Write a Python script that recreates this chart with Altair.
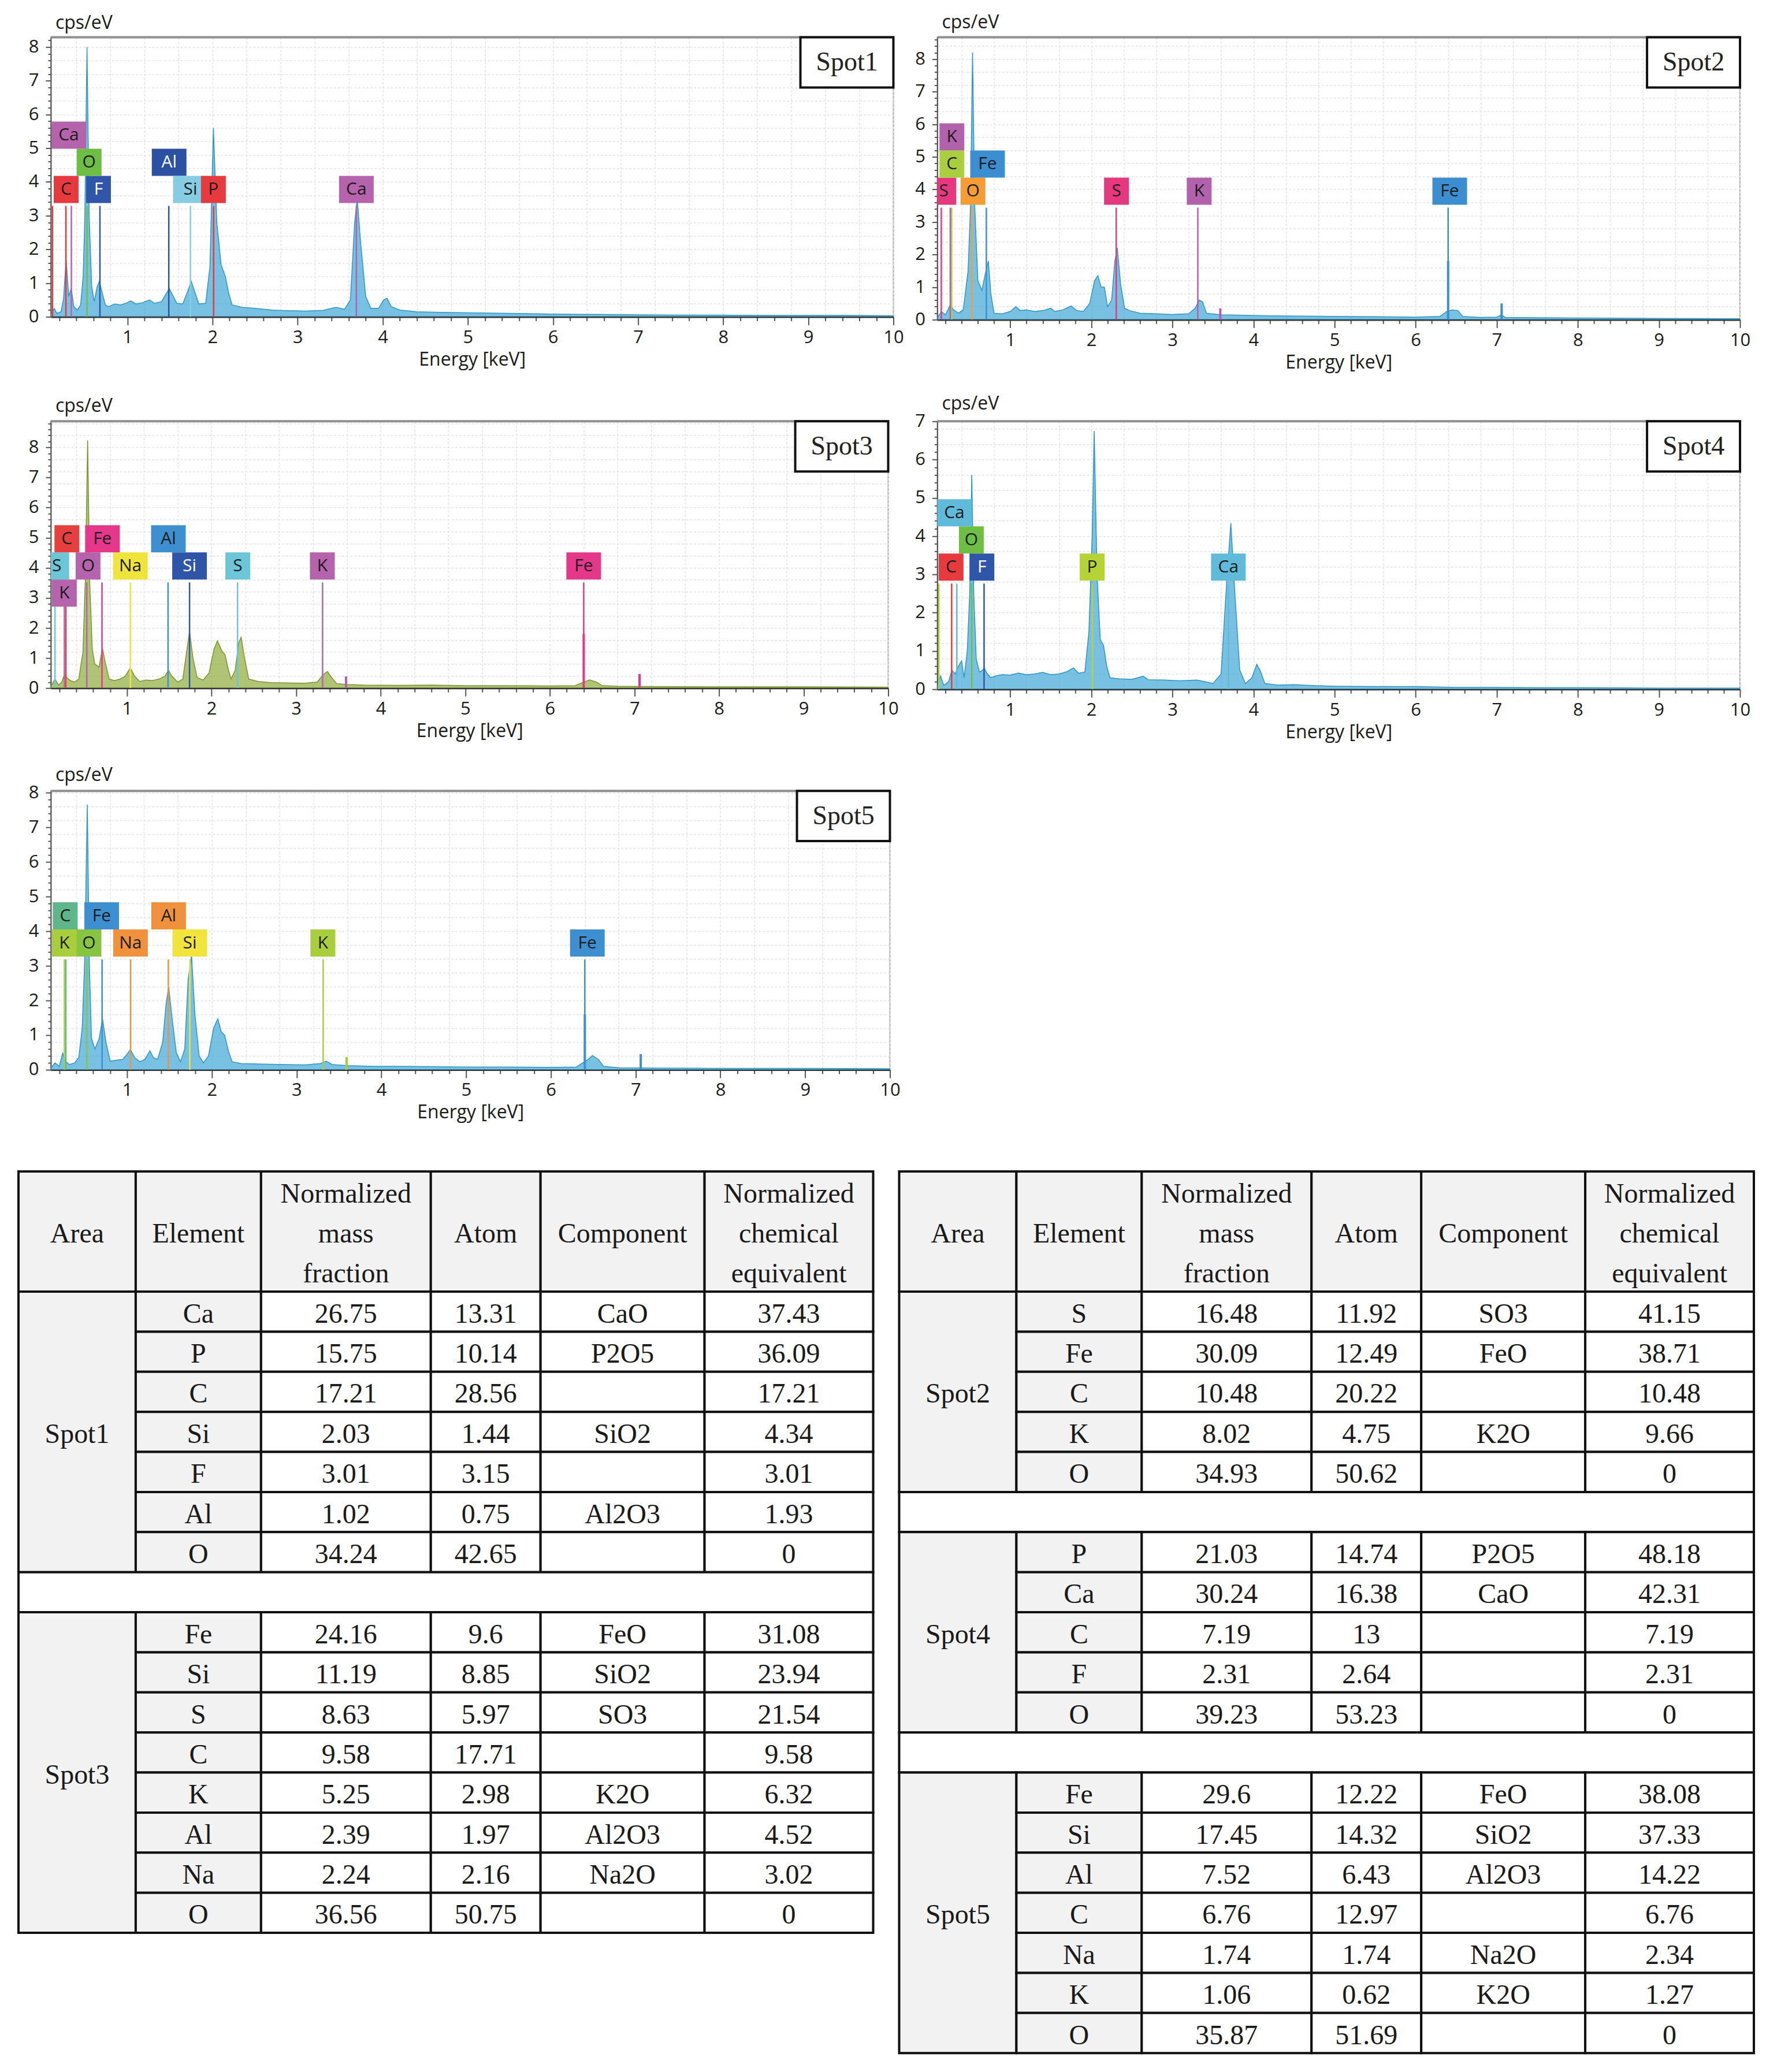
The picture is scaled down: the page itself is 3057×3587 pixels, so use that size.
import altair as alt
import pandas as pd

SANS = "Open Sans"
SERIF = "Liberation Serif"
X_MIN, X_MAX = 0.1, 10.0

# ---------------- spectra: (energy keV, intensity cps/eV) ----------------
SPOT1 = [(0.10,0.05),(0.14,0.25),(0.17,0.10),(0.22,0.15),(0.25,0.55),(0.28,1.70),(0.31,0.60),(0.34,0.85),
         (0.37,0.30),(0.41,0.20),(0.45,0.35),(0.48,1.20),(0.50,3.00),(0.525,8.00),(0.55,3.00),(0.58,0.90),
         (0.61,0.45),(0.645,0.90),(0.67,1.05),(0.70,0.75),(0.74,0.35),(0.78,0.30),(0.85,0.38),(0.92,0.35),
         (1.00,0.42),(1.04,0.47),(1.10,0.38),(1.18,0.42),(1.26,0.50),(1.32,0.40),(1.40,0.45),(1.46,0.70),
         (1.49,0.85),(1.53,0.65),(1.58,0.40),(1.65,0.38),(1.70,0.70),(1.75,1.05),(1.79,0.75),(1.84,0.38),
         (1.92,0.40),(1.97,1.50),(2.01,5.60),(2.05,2.80),(2.10,1.55),(2.15,1.20),(2.19,0.70),(2.23,0.35),
         (2.35,0.28),(2.50,0.25),(2.70,0.20),(2.90,0.18),(3.10,0.17),(3.30,0.19),(3.45,0.28),(3.55,0.22),
         (3.62,0.50),(3.67,2.80),(3.70,3.50),(3.74,2.20),(3.80,0.60),(3.86,0.25),(3.95,0.25),(4.01,0.50),
         (4.05,0.55),(4.10,0.30),(4.20,0.20),(4.40,0.15),(4.70,0.13),(5.00,0.12),(5.50,0.10),(6.00,0.08),
         (6.50,0.07),(7.00,0.06),(7.50,0.05),(8.00,0.05),(8.50,0.04),(9.00,0.04),(9.50,0.04),(10.00,0.03)]
SPOT2 = [(0.10,0.05),(0.15,0.25),(0.20,0.15),(0.26,0.45),(0.30,0.30),(0.36,0.20),(0.42,0.30),(0.48,1.50),
         (0.51,3.50),(0.535,8.20),(0.56,3.60),(0.60,1.20),(0.65,0.90),(0.70,1.50),(0.73,1.80),(0.76,0.80),
         (0.80,0.20),(0.90,0.18),(1.00,0.25),(1.07,0.40),(1.12,0.28),(1.20,0.30),(1.30,0.25),(1.40,0.28),
         (1.50,0.35),(1.55,0.25),(1.65,0.30),(1.75,0.42),(1.82,0.28),(1.90,0.25),(1.98,0.50),(2.04,1.20),
         (2.08,1.35),(2.12,1.00),(2.16,1.00),(2.20,0.40),(2.25,0.60),(2.29,1.80),(2.32,2.20),(2.36,1.10),
         (2.41,0.35),(2.47,0.28),(2.60,0.20),(2.80,0.18),(3.00,0.16),(3.20,0.18),(3.28,0.35),(3.33,0.60),
         (3.37,0.55),(3.42,0.20),(3.60,0.15),(3.80,0.14),(4.20,0.12),(4.60,0.11),(5.00,0.10),(5.50,0.09),
         (6.00,0.08),(6.30,0.10),(6.38,0.25),(6.45,0.30),(6.52,0.28),(6.58,0.10),(6.80,0.07),(7.00,0.08),
         (7.06,0.15),(7.10,0.07),(7.50,0.06),(8.00,0.05),(9.00,0.04),(10.00,0.03)]
SPOT3 = [(0.10,0.05),(0.15,0.30),(0.19,0.10),(0.23,0.20),(0.26,0.45),(0.29,0.35),(0.33,0.25),(0.38,0.20),
         (0.43,0.30),(0.48,1.20),(0.51,3.80),(0.535,8.24),(0.56,3.50),(0.59,1.30),(0.62,0.80),(0.67,0.70),
         (0.71,1.33),(0.74,0.90),(0.79,0.30),(0.85,0.25),(0.92,0.30),(0.98,0.40),(1.04,0.67),(1.09,0.40),
         (1.15,0.22),(1.22,0.27),(1.30,0.25),(1.38,0.30),(1.45,0.40),(1.49,0.59),(1.53,0.40),(1.60,0.20),
         (1.66,0.30),(1.71,1.30),(1.74,1.88),(1.78,1.00),(1.83,0.35),(1.90,0.27),(1.97,0.50),(2.03,1.30),
         (2.07,1.57),(2.12,1.25),(2.16,1.10),(2.20,0.60),(2.23,0.30),(2.28,0.60),(2.32,1.50),(2.35,1.69),
         (2.39,1.00),(2.44,0.30),(2.55,0.22),(2.70,0.18),(2.90,0.17),(3.10,0.16),(3.25,0.20),(3.32,0.45),
         (3.37,0.55),(3.42,0.35),(3.48,0.15),(3.60,0.12),(3.80,0.10),(4.20,0.09),(4.60,0.10),(5.00,0.08),
         (5.50,0.08),(6.00,0.07),(6.30,0.08),(6.42,0.22),(6.47,0.27),(6.55,0.20),(6.62,0.08),(6.80,0.06),
         (7.20,0.05),(8.00,0.04),(9.00,0.04),(10.00,0.03)]
SPOT4 = [(0.10,0.05),(0.14,0.35),(0.18,0.10),(0.24,0.20),(0.28,0.50),(0.32,0.40),(0.36,0.60),(0.40,0.74),
         (0.43,0.30),(0.47,1.00),(0.50,2.50),(0.525,5.60),(0.55,2.50),(0.58,0.80),(0.62,0.45),(0.66,0.50),
         (0.68,0.56),(0.71,0.42),(0.76,0.30),(0.82,0.35),(0.90,0.38),(1.00,0.37),(1.10,0.42),(1.20,0.38),
         (1.30,0.40),(1.40,0.44),(1.50,0.38),(1.60,0.40),(1.70,0.46),(1.78,0.56),(1.84,0.42),(1.92,0.45),
         (1.97,1.50),(2.01,4.00),(2.035,6.75),(2.07,3.00),(2.11,1.30),(2.15,1.15),(2.19,0.60),(2.23,0.30),
         (2.35,0.27),(2.50,0.26),(2.64,0.34),(2.70,0.25),(2.90,0.24),(3.10,0.22),(3.30,0.24),(3.40,0.20),
         (3.50,0.15),(3.60,0.40),(3.66,2.50),(3.72,4.34),(3.77,2.50),(3.83,0.50),(3.90,0.15),(3.98,0.30),
         (4.04,0.65),(4.08,0.50),(4.14,0.15),(4.30,0.11),(4.50,0.12),(4.80,0.09),(5.00,0.08),(5.50,0.07),
         (6.00,0.07),(6.50,0.05),(7.00,0.05),(7.50,0.04),(8.00,0.04),(9.00,0.03),(10.00,0.03)]
SPOT5 = [(0.10,0.05),(0.15,0.20),(0.20,0.10),(0.24,0.48),(0.27,0.25),(0.32,0.15),(0.38,0.20),(0.43,0.35),
         (0.47,1.20),(0.50,3.20),(0.53,7.65),(0.555,3.00),(0.58,0.90),(0.62,0.60),(0.67,0.90),(0.71,1.47),
         (0.75,0.80),(0.80,0.25),(0.88,0.28),(0.95,0.30),(1.00,0.45),(1.04,0.59),(1.09,0.35),(1.15,0.23),
         (1.21,0.30),(1.27,0.55),(1.31,0.35),(1.36,0.30),(1.42,0.80),(1.46,1.90),(1.49,2.39),(1.53,1.50),
         (1.58,0.50),(1.63,0.23),(1.68,0.60),(1.72,2.60),(1.76,3.30),(1.80,1.60),(1.85,0.40),(1.90,0.20),
         (1.96,0.40),(2.02,1.20),(2.07,1.47),(2.11,1.10),(2.15,1.00),(2.20,0.50),(2.24,0.23),(2.35,0.18),
         (2.50,0.17),(2.70,0.16),(2.90,0.15),(3.10,0.14),(3.28,0.18),(3.35,0.25),(3.42,0.15),(3.60,0.12),
         (3.90,0.10),(4.20,0.10),(4.60,0.09),(5.00,0.08),(5.50,0.08),(6.00,0.07),(6.30,0.08),(6.44,0.30),
         (6.49,0.41),(6.56,0.30),(6.62,0.10),(6.80,0.06),(7.20,0.05),(8.00,0.04),(9.00,0.04),(10.00,0.03)]

# ---------------- element labels: (text, box centre keV, stack level, line energy keV) ----------------
SPOT1_LABELS = [("C",0.28,0,0.277),("F",0.66,0,0.677),("O",0.55,1,0.525),("Ca",0.31,2,0.341),
                ("Al",1.49,1,1.486),("Si",1.74,0,1.740),("P",2.01,0,2.013),("Ca",3.69,0,3.690)]
SPOT2_LABELS = [("S",0.18,0,0.149),("O",0.54,0,0.525),("C",0.28,1,0.277),("Fe",0.72,1,0.705),
                ("K",0.28,2,0.260),("S",2.31,0,2.307),("K",3.33,0,3.313),("Fe",6.42,0,6.400)]
SPOT3_LABELS = [("S",0.17,0,0.149),("O",0.54,0,0.525),("Na",1.04,0,1.041),("Si",1.74,0,1.740),
                ("S",2.31,0,2.307),("K",3.31,0,3.313),("Fe",6.40,0,6.400),("C",0.29,1,0.277),
                ("Fe",0.71,1,0.705),("Al",1.49,1,1.486),("K",0.26,-1,0.260)]
SPOT4_LABELS = [("C",0.27,0,0.277),("F",0.65,0,0.677),("O",0.52,1,0.525),("Ca",0.31,2,0.341),
                ("P",2.01,0,2.013),("Ca",3.69,0,3.690)]
SPOT5_LABELS = [("K",0.26,0,0.260),("O",0.55,0,0.525),("Na",1.04,0,1.041),("Si",1.74,0,1.740),
                ("K",3.31,0,3.313),("Fe",6.43,0,6.400),("C",0.27,1,0.277),("Fe",0.70,1,0.705),
                ("Al",1.49,1,1.486)]
# extra marker lines without a box: (element, keV)
SPOT1_EXTRA = [("P", 0.12)]
SPOT4_EXTRA = [("P", 0.12)]
# short strong marker lines: (element, keV, height cps/eV)
SPOT2_SHORT = [("Fe",6.40,1.80),("Fe",7.06,0.50),("K",3.59,0.35)]
SPOT3_SHORT = [("Fe",6.40,1.80),("Fe",7.06,0.47),("K",3.59,0.39)]
SPOT5_SHORT = [("Fe",6.40,1.60),("Fe",7.06,0.45),("K",3.59,0.37)]

# ---------------- styles ----------------
SPOT1_COLORS = {"C":"#e63a3e","F":"#2f56a8","O":"#6fbe44","Ca":"#b663ad","Al":"#2c50a2","Si":"#86cde3","P":"#e63a3e"}
SPOT2_COLORS = {"S":"#e5387f","O":"#f49d36","C":"#a9cf3e","Fe":"#3b8fd1","K":"#b262aa"}
SPOT3_COLORS = {"S":"#6cc6d8","O":"#b663ad","Na":"#efe43a","Si":"#2f55a8","K":"#b663ad","Fe":"#e6388a","C":"#e6403e","Al":"#3d8fd0"}
SPOT4_COLORS = {"C":"#e63a3e","F":"#2f56a8","O":"#6fbe44","Ca":"#5fbbd9","P":"#b6d335"}
SPOT5_COLORS = {"K":"#a8cf3b","O":"#86c441","Na":"#f0913e","Si":"#f1e43c","Fe":"#3d8fd0","C":"#5fb68a","Al":"#f0913e"}
DARK_FILLS = {"#2f56a8", "#2c50a2", "#2f55a8"}
BLUE_FILL, BLUE_EDGE = "#3ea7d6", "#2d96c6"
OLIVE_FILL, OLIVE_EDGE = "#8fab3c", "#7a9530"
BOX_H = 47


def spectrum_chart(name, spec, labels, extra, short, colors, fill, edge, width, height, ymax, base_px):
    ppk = width / (X_MAX - X_MIN)
    ppu = height / ymax
    xs = alt.Scale(domain=[X_MIN, X_MAX], nice=False, zero=False)
    ys = alt.Scale(domain=[0, ymax], nice=False, zero=False)
    xvals = [round(0.2 * i, 1) for i in range(1, 51)]
    yvals = [round(0.2 * i, 1) for i in range(0, int(ymax * 5 + 1e-6) + 1)]
    is_int = "datum.value % 1 === 0"
    grid_on = {"condition": {"test": "round(datum.value * 10) % 4 === 0", "value": 1}, "value": 0}
    xaxis = alt.Axis(values=xvals, title="Energy [keV]",
                     labelExpr=f"{is_int} ? format(datum.value, 'd') : ''",
                     labelOverlap=False, labelFlush=False, labelFont=SANS, labelFontSize=31,
                     labelColor="#1a1a1a", labelPadding=7,
                     tickSize={"condition": {"test": is_int, "value": 14}, "value": 7},
                     tickColor="#555555", tickWidth=2, domainColor="#333333", domainWidth=3,
                     grid=True, gridColor="#e3e3e3", gridDash=[4, 3], gridWidth=1.5, gridOpacity=grid_on,
                     titleFont=SANS, titleFontSize=32, titleFontWeight="normal", titleColor="#1a1a1a",
                     titlePadding=8)
    yaxis = alt.Axis(values=yvals, title=None,
                     labelExpr=f"{is_int} ? format(datum.value, 'd') : ''",
                     labelOverlap=False, labelFlush=False, labelFont=SANS, labelFontSize=31,
                     labelColor="#1a1a1a", labelPadding=12,
                     tickSize={"condition": {"test": is_int, "value": 9}, "value": 5},
                     tickColor="#555555", tickWidth=2, domainColor="#555555", domainWidth=2,
                     grid=True, gridColor="#e3e3e3", gridDash=[4, 3], gridWidth=1.5, gridOpacity=grid_on)

    def X(f):
        return alt.X(f"{f}:Q", scale=xs, axis=xaxis)

    def Y(f):
        return alt.Y(f"{f}:Q", scale=ys, axis=yaxis)

    sdf = pd.DataFrame(spec, columns=["E", "c"])
    layers = [alt.Chart(sdf).mark_area(color=fill, clip=True,
                                       line={"color": edge, "strokeWidth": 1.5}).encode(x=X("E"), y=Y("c"))]

    top_u = (base_px - 5) / ppu
    rows, seen = [], set()
    for el, bx, lvl, le in labels:
        if (el, le) in seen:
            continue
        seen.add((el, le))
        rows.append({"E": le, "c0": 0.0, "c1": top_u, "col": colors[el]})
    for el, le in extra:
        rows.append({"E": le, "c0": 0.0, "c1": top_u, "col": colors[el]})
    layers.append(alt.Chart(pd.DataFrame(rows)).mark_rule(strokeWidth=2.5, clip=True).encode(
        x=X("E"), y=Y("c0"), y2="c1", color=alt.Color("col:N", scale=None)))

    if short:
        sh = pd.DataFrame([{"E": e, "c0": 0.0, "c1": h, "col": colors[el]} for el, e, h in short])
        layers.append(alt.Chart(sh).mark_rule(strokeWidth=4, clip=True).encode(
            x=X("E"), y=Y("c0"), y2="c1", color=alt.Color("col:N", scale=None)))

    brows = []
    for el, bx, lvl, le in labels:
        w = (43 if len(el) == 1 else 60) / ppk
        c0 = (base_px + lvl * BOX_H) / ppu
        c1 = (base_px + (lvl + 1) * BOX_H) / ppu
        brows.append({"E0": bx - w / 2, "E1": bx + w / 2, "c0": c0, "c1": c1, "Em": bx,
                      "cm": (c0 + c1) / 2, "t": el, "col": colors[el],
                      "tcol": "#ffffff" if colors[el] in DARK_FILLS else "#1c1c1c"})
    bdf = pd.DataFrame(brows)
    layers.append(alt.Chart(bdf).mark_rect(clip=True).encode(
        x=X("E0"), x2="E1", y=Y("c0"), y2="c1", color=alt.Color("col:N", scale=None)))
    layers.append(alt.Chart(bdf).mark_text(font=SANS, fontSize=30, clip=True).encode(
        x=X("Em"), y=Y("cm"), text="t:N", color=alt.Color("tcol:N", scale=None)))

    fr = pd.DataFrame([{"E0": X_MIN, "E1": X_MAX, "c0": ymax}])
    layers.append(alt.Chart(fr).mark_rule(color="#8f8f8f", strokeWidth=4).encode(
        x=X("E0"), x2="E1", y=Y("c0")))

    sb = pd.DataFrame([{"E0": X_MAX - 161 / ppk, "E1": X_MAX, "c0": ymax - 87 / ppu, "c1": ymax,
                        "Em": X_MAX - 80.5 / ppk, "cm": ymax - 43.5 / ppu, "t": name}])
    layers.append(alt.Chart(sb).mark_rect(fill="white", stroke="#111111", strokeWidth=4).encode(
        x=X("E0"), x2="E1", y=Y("c0"), y2="c1"))
    layers.append(alt.Chart(sb).mark_text(font=SERIF, fontSize=46, color="#222222").encode(
        x=X("Em"), y=Y("cm"), text="t:N"))

    return alt.layer(*layers).properties(
        width=width, height=height,
        title=alt.TitleParams("cps/eV", anchor="start", frame="group", fontSize=32, font=SANS,
                              fontWeight="normal", color="#1a1a1a", offset=-3, dx=8),
        view=alt.ViewBackground(stroke="#a8a8a8", strokeWidth=2))


# ---------------- tables ----------------
HEADERS = ["Area", "Element", "Normalized\nmass\nfraction", "Atom", "Component",
           "Normalized\nchemical\nequivalent"]
TAB_SPOT1 = [("Ca","26.75","13.31","CaO","37.43"),("P","15.75","10.14","P2O5","36.09"),
             ("C","17.21","28.56","","17.21"),("Si","2.03","1.44","SiO2","4.34"),
             ("F","3.01","3.15","","3.01"),("Al","1.02","0.75","Al2O3","1.93"),
             ("O","34.24","42.65","","0")]
TAB_SPOT3 = [("Fe","24.16","9.6","FeO","31.08"),("Si","11.19","8.85","SiO2","23.94"),
             ("S","8.63","5.97","SO3","21.54"),("C","9.58","17.71","","9.58"),
             ("K","5.25","2.98","K2O","6.32"),("Al","2.39","1.97","Al2O3","4.52"),
             ("Na","2.24","2.16","Na2O","3.02"),("O","36.56","50.75","","0")]
TAB_SPOT2 = [("S","16.48","11.92","SO3","41.15"),("Fe","30.09","12.49","FeO","38.71"),
             ("C","10.48","20.22","","10.48"),("K","8.02","4.75","K2O","9.66"),
             ("O","34.93","50.62","","0")]
TAB_SPOT4 = [("P","21.03","14.74","P2O5","48.18"),("Ca","30.24","16.38","CaO","42.31"),
             ("C","7.19","13","","7.19"),("F","2.31","2.64","","2.31"),
             ("O","39.23","53.23","","0")]
TAB_SPOT5 = [("Fe","29.6","12.22","FeO","38.08"),("Si","17.45","14.32","SiO2","37.33"),
             ("Al","7.52","6.43","Al2O3","14.22"),("C","6.76","12.97","","6.76"),
             ("Na","1.74","1.74","Na2O","2.34"),("K","1.06","0.62","K2O","1.27"),
             ("O","35.87","51.69","","0")]

COL_EDGES = [0, 203, 420, 714, 904, 1188, 1480]
ROW_PX = 69.4
GRAY, WHITE = "#f2f2f2", "#ffffff"


def table_chart(groups, width, x_off):
    cells, texts = [], []
    mid = lambda j: (COL_EDGES[j] + COL_EDGES[j + 1]) / 2
    for j, h in enumerate(HEADERS):
        cells.append({"x0": COL_EDGES[j], "x1": COL_EDGES[j + 1], "r0": 0, "r1": 3, "f": GRAY})
        parts = h.split("\n")
        start = 1.5 - (len(parts) - 1) / 2
        for k, p in enumerate(parts):
            texts.append({"xc": mid(j), "rc": start + k, "t": p})
    r = 3
    for g in groups:
        if g is None:
            cells.append({"x0": COL_EDGES[0], "x1": COL_EDGES[-1], "r0": r, "r1": r + 1, "f": WHITE})
            r += 1
            continue
        name, rows = g
        n = len(rows)
        cells.append({"x0": COL_EDGES[0], "x1": COL_EDGES[1], "r0": r, "r1": r + n, "f": GRAY})
        texts.append({"xc": mid(0), "rc": r + n / 2, "t": name})
        for i, row in enumerate(rows):
            for j, val in enumerate(row):
                c = j + 1
                cells.append({"x0": COL_EDGES[c], "x1": COL_EDGES[c + 1], "r0": r + i, "r1": r + i + 1,
                              "f": GRAY if c == 1 else WHITE})
                if val:
                    texts.append({"xc": mid(c), "rc": r + i + 0.5, "t": val})
        r += n
    nrows = r
    xs = alt.Scale(domain=[x_off, x_off + width], nice=False, zero=False)
    ys = alt.Scale(domain=[0, nrows], reverse=True, nice=False, zero=False)
    rect = alt.Chart(pd.DataFrame(cells)).mark_rect(stroke="#111111", strokeWidth=4).encode(
        x=alt.X("x0:Q", scale=xs, axis=None), x2="x1",
        y=alt.Y("r0:Q", scale=ys, axis=None), y2="r1",
        fill=alt.Fill("f:N", scale=None))
    txt = alt.Chart(pd.DataFrame(texts)).mark_text(
        font=SERIF, fontSize=48, color="#1a1a1a", baseline="middle", dy=5).encode(
        x=alt.X("xc:Q", scale=xs, axis=None), y=alt.Y("rc:Q", scale=ys, axis=None), text="t:N")
    return alt.layer(rect, txt).properties(width=width, height=nrows * ROW_PX,
                                           view=alt.ViewBackground(stroke="transparent"))


W_L, W_R = 1459, 1390

s1 = spectrum_chart("Spot1", SPOT1, SPOT1_LABELS, SPOT1_EXTRA, [], SPOT1_COLORS, BLUE_FILL, BLUE_EDGE,
                    1459, 484, 8.29, 197)
s2 = spectrum_chart("Spot2", SPOT2, SPOT2_LABELS, [], SPOT2_SHORT, SPOT2_COLORS, BLUE_FILL, BLUE_EDGE,
                    1390, 489, 8.67, 199)
s3 = spectrum_chart("Spot3", SPOT3, SPOT3_LABELS, [], SPOT3_SHORT, SPOT3_COLORS, OLIVE_FILL, OLIVE_EDGE,
                    1450, 462, 8.87, 188)
s4 = spectrum_chart("Spot4", SPOT4, SPOT4_LABELS, SPOT4_EXTRA, [], SPOT4_COLORS, BLUE_FILL, BLUE_EDGE,
                    1390, 464, 7.0, 188)
s5 = spectrum_chart("Spot5", SPOT5, SPOT5_LABELS, [], SPOT5_SHORT, SPOT5_COLORS, BLUE_FILL, BLUE_EDGE,
                    1453, 483, 8.05, 196)

blank = alt.Chart(pd.DataFrame({"a": [0]})).mark_point(opacity=0).encode(
    x=alt.X("a:Q", axis=None), y=alt.Y("a:Q", axis=None)).properties(
    width=W_R, height=10, view=alt.ViewBackground(stroke="transparent"))

t_left = table_chart([("Spot1", TAB_SPOT1), None, ("Spot3", TAB_SPOT3)], W_L, 56)
t_right = table_chart([("Spot2", TAB_SPOT2), None, ("Spot4", TAB_SPOT4), None, ("Spot5", TAB_SPOT5)],
                      W_R, 66)

chart = alt.concat(s1, s2, s3, s4, s5, blank, t_left, t_right, columns=2,
                   spacing={"row": 176, "column": 76}, bounds="flush", align="each").properties(
    padding={"left": 21, "top": 12, "right": 10, "bottom": 10}).configure(background="white")

chart.save("out.html", embed_options={"renderer": "svg", "actions": False})
